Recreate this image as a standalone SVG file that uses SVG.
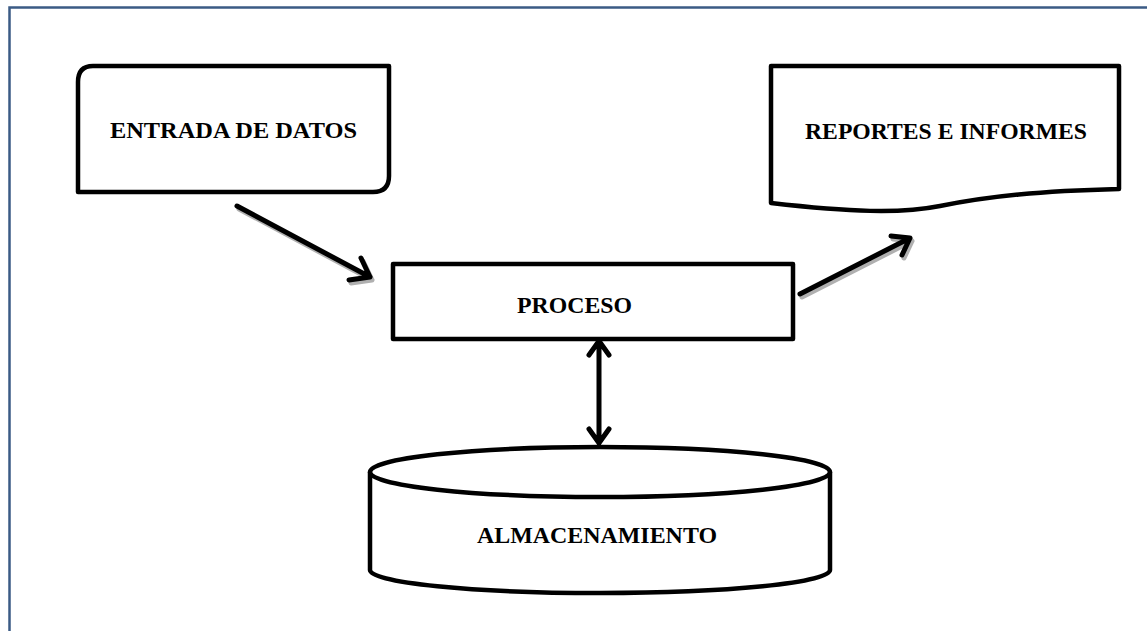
<svg xmlns="http://www.w3.org/2000/svg" width="1147" height="631" viewBox="0 0 1147 631">
<style>
.shape{fill:#fff;stroke:#000;stroke-width:4.5;stroke-linejoin:round}
.lbl{font-family:"Liberation Serif","Times New Roman",serif;font-weight:bold;font-size:23.5px;fill:#000}
.ln{fill:none;stroke:#000;stroke-width:5;stroke-linecap:round;stroke-linejoin:round}
.sh{fill:none;stroke:#b0b0b0;stroke-width:5;stroke-linecap:round;stroke-linejoin:round}
</style>
<rect width="1147" height="631" fill="#fff"/>
<path d="M9.5 631 V7.5 H1147" fill="none" stroke="#3b5b85" stroke-width="2.5"/>
<g id="entrada">
<path class="shape" d="M93 66 H389 V176 Q389 192 373 192 H78 V82 Q78 66 93 66 Z"/>
<text class="lbl" x="110" y="138" textLength="247" lengthAdjust="spacingAndGlyphs">ENTRADA DE DATOS</text>
</g>
<g id="reportes">
<path class="shape" d="M771 66 H1119 V189 C1040 191 990 196 940 206 C900 214 850 212 771 203 Z"/>
<text class="lbl" x="805" y="139" textLength="282" lengthAdjust="spacingAndGlyphs">REPORTES E INFORMES</text>
</g>
<g id="proceso">
<rect class="shape" x="393" y="264" width="400" height="75"/>
<text class="lbl" x="517" y="313" textLength="115" lengthAdjust="spacingAndGlyphs">PROCESO</text>
</g>
<g id="almacenamiento">
<path class="shape" d="M370 472 V570 A230 23 0 0 0 830 570 V472"/>
<ellipse class="shape" cx="600" cy="472" rx="230" ry="25"/>
<text class="lbl" x="477" y="543" textLength="240" lengthAdjust="spacingAndGlyphs">ALMACENAMIENTO</text>
</g>
<g id="connectors">
<g transform="translate(2,3)">
<path class="sh" d="M237 206 L370 277 M349 280 L370 277 L361 258"/>
<path class="sh" d="M800 294 L910 238 M891 236 L910 238 L902 255"/>
</g>
<path class="ln" d="M237 206 L370 277 M349 280 L370 277 L361 258"/>
<path class="ln" d="M800 294 L910 238 M891 236 L910 238 L902 255"/>
<path class="ln" d="M599 341 V443 M589 355 L599 341 L609 355 M589 429 L599 443 L609 429"/>
</g>
</svg>
